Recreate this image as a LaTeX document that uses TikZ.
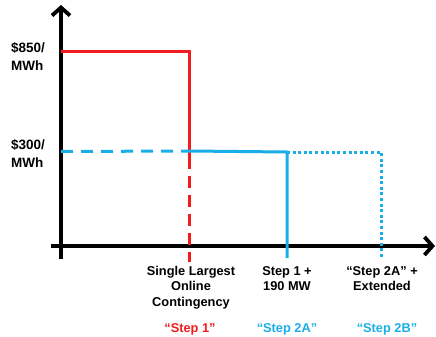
\documentclass[tikz,border=0pt]{standalone}
\usepackage{fontspec}
\setmainfont{Liberation Sans}
\usetikzlibrary{arrows.meta}
\definecolor{cred}{HTML}{F21C1C}
\definecolor{cblue}{HTML}{1AAEE8}
\tikzset{
  axis/.style={line width=4.2pt, -{Straight Barb[length=8pt,width=18pt,line width=3.8pt]}},
  redline/.style={cred, line width=3pt},
  blueline/.style={cblue, line width=3pt},
  lbl/.style={font=\bfseries\fontsize{12.8}{15.5}\selectfont, align=center, inner sep=0pt},
  ylbl/.style={font=\bfseries\fontsize{13.5}{18}\selectfont, align=left, inner sep=0pt, anchor=west},
}
\begin{document}
\begin{tikzpicture}[x=1pt,y=-1pt]
\useasboundingbox (0,0) rectangle (436,337);
% axes
\coordinate (yb) at (61,259);
\coordinate (yt) at (61,5);
\coordinate (xl) at (51,246);
\coordinate (xr) at (435,246);
\draw[axis] (yb) -- (yt);
\draw[axis] (xl) -- (xr);
% red
\coordinate (r0) at (61,52);
\coordinate (r1) at (189,52);
\coordinate (r2) at (189,157);
\coordinate (r3) at (189,262);
\draw[redline] (r0) -- (r1) -- (r2);
\draw[redline, dash pattern=on 12pt off 7pt] (r2) -- (r3);
% blue
\coordinate (b0) at (61,151.5);
\coordinate (b1) at (189,151);
\coordinate (b2) at (287,152);
\coordinate (b3) at (287,258);
\coordinate (b4) at (381,152);
\coordinate (b5) at (381,258);
\draw[blueline, dash pattern=on 12pt off 8pt] (b0) -- (b1);
\draw[blueline] (b1) -- (b2) -- (b3);
\draw[blueline, dash pattern=on 3pt off 2.6pt] (b2) -- (b4) -- (b5);
% labels
\node[ylbl] (p850) at (11,56) {\$850/\\MWh};
\node[ylbl] (p300) at (11,153) {\$300/\\MWh};
\node[lbl, anchor=north] (l1) at (191,266) {Single Largest\\Online\\Contingency};
\node[lbl, anchor=north] (l2) at (287,266) {Step 1 +\\190 MW};
\node[lbl, anchor=north] (l3) at (382,266) {“Step 2A” +\\Extended};
\node[lbl, cred] (s1) at (190,329) {“Step 1”};
\node[lbl, cblue] (s2) at (287,329) {“Step 2A”};
\node[lbl, cblue] (s3) at (387,329) {“Step 2B”};
\end{tikzpicture}
\end{document}
